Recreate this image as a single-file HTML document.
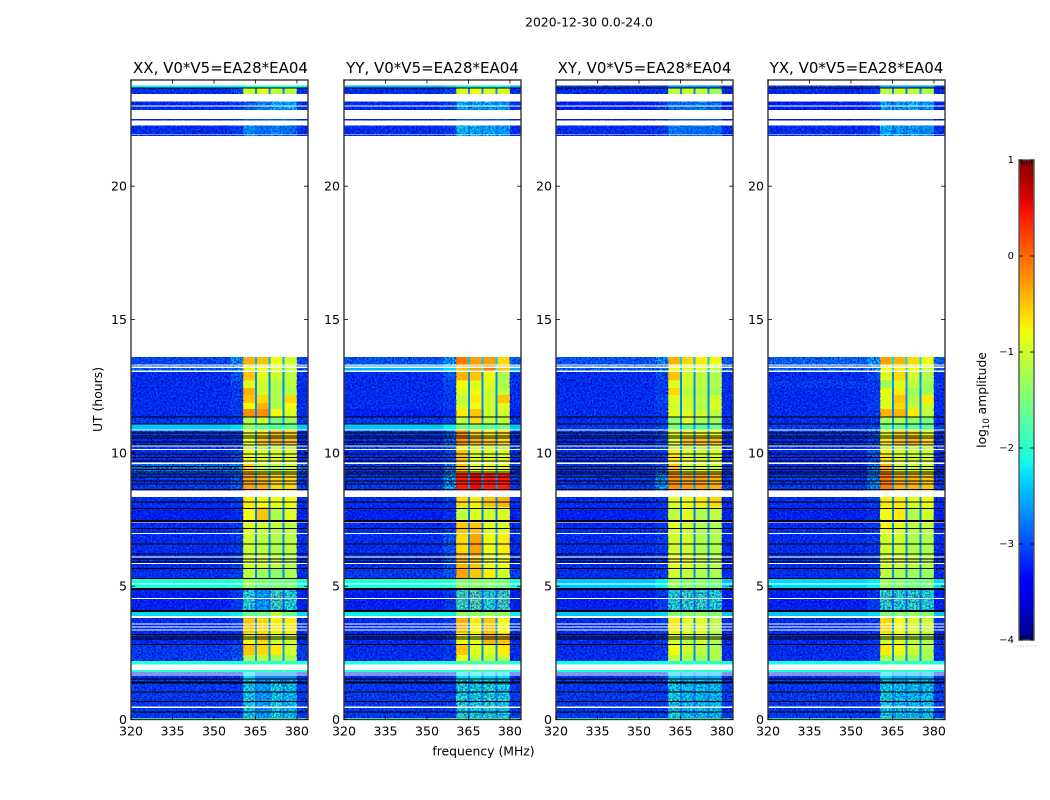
<!DOCTYPE html>
<html lang="en">
<head>
<meta charset="utf-8">
<title>2020-12-30 0.0-24.0 dynamic spectra</title>
<style>
html,body{margin:0;padding:0;background:#fff;}
svg{display:block;font-family:"DejaVu Sans","Liberation Sans",sans-serif;fill:#000;}
</style>
</head>
<body>
<svg id="chart" xmlns="http://www.w3.org/2000/svg" width="1050" height="800" viewBox="0 0 1050 800">
  <defs>
    <filter id="speckle-dark" x="0" y="0" width="1" height="1" color-interpolation-filters="sRGB">
      <feTurbulence type="fractalNoise" baseFrequency="0.55" numOctaves="2" seed="4"/>
      <feColorMatrix type="matrix" values="0 0 0 0 0  0 0 0 0 0  0 0 0 0 0.75  2.8 0 0 0 -1.05"/>
    </filter>
    <filter id="speckle-light" x="0" y="0" width="1" height="1" color-interpolation-filters="sRGB">
      <feTurbulence type="fractalNoise" baseFrequency="0.55" numOctaves="2" seed="11"/>
      <feColorMatrix type="matrix" values="0 0 0 0 0  0 0 0 0 0.5  0 0 0 0 1  0 2.4 0 0 -1.25"/>
    </filter>
    <linearGradient id="colorbar-gradient" x1="0" y1="0" x2="0" y2="1"></linearGradient>
  </defs>
  <text x="589" y="26.5" font-size="12.4" text-anchor="middle">2020-12-30 0.0-24.0</text>
  <text x="220.5" y="73" font-size="15" text-anchor="middle">XX, V0*V5=EA28*EA04</text>
  <text x="432.5" y="73" font-size="15" text-anchor="middle">YY, V0*V5=EA28*EA04</text>
  <text x="644.5" y="73" font-size="15" text-anchor="middle">XY, V0*V5=EA28*EA04</text>
  <text x="856.5" y="73" font-size="15" text-anchor="middle">YX, V0*V5=EA28*EA04</text>
  <text transform="translate(102,399.5) rotate(-90)" font-size="12.4" text-anchor="middle">UT (hours)</text>
  <text x="483.5" y="755.5" font-size="12.4" text-anchor="middle">frequency (MHz)</text>
  <text transform="translate(986,400) rotate(-90)" font-size="12.3" text-anchor="middle">log<tspan font-size="8.5" dy="3">10</tspan><tspan dy="-3"> amplitude</tspan></text>
  <g id="panels"></g>
  <g id="colorbar"></g>
</svg>
<script>
// Tick labels
const xTicks = [320, 335, 350, 365, 380];
const yTicks = [0, 5, 10, 15, 20];
const colorbarTicks = [1, 0, -1, -2, -3, -4];

// Top edge (UT hours) of each time block; the last block ends at 0 h
const rowTops = [24, 23.67, 23.18, 22.85, 22.47, 13.59, 13.32, 13.06, 12.72, 12.43, 12.16, 11.86, 11.64, 11.36, 11.06, 10.87, 10.59, 10.29, 10.14, 9.63, 9.24, 8.34, 7.96, 7.46, 6.99, 6.24, 5.68, 5.30, 4.93, 4.07, 3.80, 3.24, 2.83, 2.42, 2.19, 1.78, 1.48, 0.06];

// log10 amplitude per time block: [background, band edge, subband 1, subband 2, subband 3, subband 4]
const levelsXX = [
[-2.2,-2.2,-2.1,-2.1,-2.1,-2.1],[-3.1,-2.9,-1.0,-0.8,-1.1,-1.1],[-3.1,-3.0,-2.8,-2.6,-2.4,-2.3],[-3.2,-3.2,-3.0,-3.0,-3.0,-3.0],
[-3.1,-3.0,-2.5,-2.7,-2.6,-2.7],[-2.9,-2.4,-0.4,-0.5,-0.8,-1.0],[-2.7,-2.5,-0.7,-0.8,-0.9,-1.0],[-3.1,-2.8,-0.5,-0.9,-1.0,-1.1],
[-3.1,-2.9,-0.9,-1.0,-1.2,-1.1],[-3.1,-3.0,-0.4,-1.0,-1.2,-1.2],[-3.1,-3.0,-0.5,-0.6,-1.2,-0.6],[-3.1,-3.0,-0.8,-0.4,-1.2,-0.8],
[-3.1,-3.0,-0.2,-0.2,-0.8,-0.9],[-3.0,-3.0,-1.2,-1.0,-1.5,-1.3],[-2.4,-2.3,-1.3,-1.6,-1.7,-1.6],[-3.0,-2.9,-0.9,-0.7,-0.5,-0.6],
[-3.1,-3.0,-0.8,-0.5,-0.4,-0.5],[-3.0,-2.9,-1.1,-1.1,-1.1,-1.1],[-3.1,-2.9,-0.8,-0.9,-0.9,-0.9],[-2.6,-2.5,-0.6,-1.0,-1.1,-1.0],
[-3.0,-2.8,-0.3,-0.4,-0.6,-0.6],[-3.1,-3.0,-0.7,-0.8,-0.8,-0.8],[-3.2,-3.1,-0.8,-0.5,-1.2,-0.9],[-3.1,-3.0,-0.9,-1.0,-1.1,-1.1],
[-3.1,-3.0,-1.0,-1.1,-1.2,-1.1],[-3.1,-3.0,-1.0,-1.0,-1.1,-1.2],[-3.1,-3.0,-1.1,-1.3,-1.4,-1.2],[-2.1,-2.0,-1.3,-1.5,-1.5,-1.5],
[-3.2,-3.0,-2.0,-2.4,-1.8,-2.0],[-2.3,-2.2,-1.6,-1.6,-1.0,-1.6],[-3.1,-3.0,-0.5,-0.6,-0.7,-0.7],[-3.1,-3.0,-0.8,-0.6,-1.0,-1.0],
[-3.0,-2.9,-0.5,-0.6,-0.7,-1.0],[-3.0,-2.8,-1.2,-1.1,-1.3,-1.2],[-2.0,-2.0,-2.0,-2.0,-2.0,-2.0],[-3.1,-3.0,-2.3,-2.7,-2.7,-2.7],
[-3.0,-3.0,-2.1,-2.4,-2.1,-2.2],[-1.9,-1.8,-1.8,-2.0,-1.8,-1.9]
];
const levelsYY = [
[-2.5,-2.4,-2.2,-2.2,-2.2,-2.2],[-3.1,-2.9,-0.9,-0.8,-0.9,-0.9],[-3.1,-3.0,-2.3,-2.4,-2.3,-2.4],[-3.2,-3.2,-3.0,-3.0,-3.0,-3.0],
[-3.1,-3.0,-2.2,-2.3,-2.3,-2.4],[-2.8,-2.3,-0.1,-0.3,-0.3,-0.6],[-2.5,-2.3,-0.5,-0.3,-0.1,-0.5],[-3.1,-2.8,-0.4,-0.5,-0.8,-1.2],
[-3.1,-2.9,-0.8,-0.9,-0.9,-1.2],[-3.1,-3.0,-0.9,-0.8,-1.0,-1.1],[-3.1,-3.0,-1.1,-0.7,-1.0,-0.5],[-3.1,-3.0,-1.0,-0.8,-1.0,-0.9],
[-3.2,-3.1,-0.7,-0.5,-1.0,-1.0],[-3.0,-2.9,-1.1,-0.6,-1.1,-1.1],[-2.4,-2.2,-1.5,-1.5,-1.6,-1.5],[-3.0,-2.7,-0.2,-0.6,-0.7,-0.6],
[-3.1,-2.7,-0.2,-0.4,-0.5,-0.6],[-2.9,-2.8,-0.8,-0.9,-0.9,-1.0],[-3.1,-2.9,-0.5,-0.9,-0.9,-0.9],[-3.0,-2.5,-0.5,-0.9,-0.8,-0.9],
[-3.0,-2.3,0.4,0.5,0.4,0.4],[-3.1,-3.0,-0.6,-0.7,-0.5,-0.4],[-3.2,-3.1,-1.1,-0.9,-1.0,-0.9],[-3.1,-3.0,-0.5,-0.5,-0.9,-0.9],
[-3.1,-2.8,-0.6,-0.3,-0.8,-0.7],[-3.1,-2.8,-0.4,-0.5,-0.9,-0.8],[-3.0,-2.8,-0.3,-0.5,-0.7,-1.0],[-2.1,-2.0,-1.4,-1.4,-1.4,-1.5],
[-3.2,-3.0,-1.8,-1.7,-2.0,-1.8],[-2.2,-2.2,-1.3,-1.3,-1.3,-1.3],[-3.1,-3.0,-0.4,-0.7,-0.5,-0.8],[-3.1,-2.9,-0.8,-0.9,-0.4,-0.5],
[-3.1,-3.0,-0.5,-0.9,-0.9,-0.7],[-3.1,-3.0,-0.8,-1.1,-1.1,-1.1],[-2.0,-2.0,-1.9,-1.9,-1.9,-1.9],[-3.1,-3.0,-2.3,-2.2,-2.3,-2.3],
[-3.0,-3.0,-2.0,-2.1,-2.0,-2.1],[-1.9,-1.6,-1.9,-1.9,-1.9,-1.9]
];
const levelsXY = [
[-3.0,-3.0,-2.7,-2.7,-2.7,-2.7],[-3.1,-3.0,-1.1,-1.0,-1.1,-1.3],[-3.2,-3.0,-2.7,-2.7,-2.6,-2.7],[-3.3,-3.2,-3.0,-3.0,-3.0,-3.0],
[-3.1,-3.0,-2.6,-2.7,-2.7,-2.7],[-2.8,-2.4,-0.4,-0.6,-0.7,-0.8],[-2.7,-2.5,-0.8,-0.9,-0.9,-1.1],[-3.1,-2.9,-0.5,-1.0,-1.1,-1.2],
[-3.1,-3.0,-0.9,-1.0,-1.1,-1.2],[-3.1,-3.0,-0.6,-1.1,-1.2,-1.3],[-3.1,-2.9,-0.9,-1.0,-1.1,-1.0],[-3.1,-3.0,-1.0,-1.0,-1.2,-0.9],
[-3.1,-3.0,-0.9,-0.9,-1.0,-1.1],[-3.1,-3.0,-1.4,-0.9,-1.2,-1.3],[-3.0,-2.9,-1.5,-1.6,-1.7,-1.6],[-3.0,-2.8,-0.9,-0.8,-0.8,-0.8],
[-3.1,-2.9,-0.9,-0.5,-0.5,-0.5],[-3.0,-2.9,-1.1,-1.1,-1.1,-1.1],[-3.1,-3.0,-0.7,-0.9,-1.0,-0.9],[-3.0,-2.8,-0.5,-1.0,-0.9,-1.0],
[-3.0,-2.4,-0.2,-0.3,-0.3,-0.4],[-3.1,-3.0,-0.9,-0.8,-0.7,-0.6],[-3.2,-3.1,-1.1,-0.9,-1.2,-1.1],[-3.1,-3.0,-0.9,-1.0,-1.2,-1.2],
[-3.1,-3.0,-1.0,-1.0,-1.2,-1.2],[-3.1,-3.0,-0.9,-0.9,-1.1,-1.2],[-3.1,-3.0,-1.0,-1.1,-1.2,-1.2],[-2.4,-2.2,-1.3,-1.4,-1.4,-1.5],
[-3.2,-3.0,-2.0,-1.9,-1.9,-2.0],[-2.4,-2.3,-1.4,-1.4,-1.3,-1.4],[-3.1,-3.0,-0.7,-0.9,-0.9,-1.1],[-3.1,-3.0,-1.0,-1.1,-1.0,-1.2],
[-3.1,-3.0,-0.8,-1.0,-1.1,-1.2],[-3.1,-3.0,-1.1,-1.2,-1.3,-1.2],[-2.1,-2.1,-2.0,-2.0,-2.0,-2.0],[-3.1,-3.0,-2.4,-2.5,-2.5,-2.5],
[-3.0,-3.0,-2.1,-2.2,-2.2,-2.2],[-2.0,-1.9,-1.9,-2.0,-1.9,-1.9]
];
const levelsYX = [
[-3.0,-3.0,-2.6,-2.6,-2.6,-2.6],[-3.1,-3.0,-1.1,-1.0,-1.1,-1.2],[-3.2,-3.0,-2.4,-2.4,-2.3,-2.4],[-3.3,-3.2,-3.0,-3.0,-3.0,-3.0],
[-3.1,-3.0,-2.3,-2.4,-2.4,-2.5],[-2.7,-2.3,-0.3,-0.4,-0.6,-0.8],[-2.7,-2.4,-0.8,-0.7,-0.8,-1.0],[-3.1,-2.9,-0.9,-0.6,-1.0,-1.2],
[-3.0,-3.0,-1.3,-0.9,-1.1,-1.3],[-3.1,-3.0,-0.8,-0.7,-1.3,-1.3],[-3.1,-3.0,-0.9,-0.5,-1.2,-0.7],[-3.1,-3.0,-0.9,-0.6,-1.1,-1.0],
[-3.1,-3.0,-0.4,-0.4,-0.7,-1.1],[-3.1,-3.0,-1.3,-1.2,-1.4,-1.5],[-3.0,-2.9,-1.6,-1.6,-1.7,-1.7],[-3.0,-2.8,-0.9,-0.6,-0.6,-0.8],
[-3.1,-2.9,-0.7,-0.5,-0.4,-0.6],[-3.0,-2.9,-1.1,-1.1,-1.1,-1.1],[-3.1,-2.8,-0.7,-0.9,-1.0,-1.0],[-3.1,-2.6,-0.4,-1.0,-1.0,-1.0],
[-3.0,-2.4,-0.1,-0.4,-0.4,-0.5],[-3.1,-3.0,-0.7,-0.7,-0.9,-0.8],[-3.2,-3.1,-0.8,-0.7,-1.2,-1.0],[-3.1,-3.0,-0.8,-0.9,-1.1,-1.1],
[-3.1,-3.0,-1.0,-1.0,-1.2,-1.2],[-3.1,-3.0,-1.0,-1.0,-1.1,-1.2],[-3.1,-3.0,-1.1,-1.2,-1.3,-1.3],[-2.3,-2.2,-1.3,-1.4,-1.5,-1.5],
[-3.2,-3.0,-1.9,-2.0,-1.9,-2.0],[-2.4,-2.3,-1.5,-1.4,-1.3,-1.4],[-3.1,-3.0,-0.6,-0.8,-0.9,-1.0],[-3.1,-3.0,-1.0,-0.9,-1.1,-1.2],
[-3.1,-3.0,-0.7,-0.8,-1.0,-1.2],[-3.1,-3.0,-1.2,-1.2,-1.3,-1.3],[-2.1,-2.1,-2.0,-2.0,-2.0,-2.0],[-3.1,-3.0,-2.3,-2.5,-2.5,-2.5],
[-3.0,-3.0,-2.1,-2.2,-2.2,-2.2],[-2.0,-1.9,-1.9,-2.0,-1.9,-1.9]
];

// Frequency edges (MHz) of the columns: background, band edge, four subbands with gaps between them, background
const bandStarts = [360.5, 365.5, 370.5, 375.5];
const bandEnds = [364.8, 369.8, 374.8, 380];
const edgeStart = 356;
const freqMin = 320;
const freqMax = 384;

// Flagged (no data) intervals in UT hours
const blankIntervals = [[23.78,24],[23.18,23.45],[22.98,23.03],[22.51,22.85],[22.28,22.47],[21.94,21.96],[13.59,21.88],[13.28,13.32],[13.19,13.23],[13.04,13.08],[10.83,10.87],[10.23,10.27],[10.10,10.14],[9.59,9.63],[8.34,8.58],[7.38,7.42],[6.95,6.99],[6.07,6.11],[5.83,5.87],[5.06,5.10],[4.52,4.56],[3.80,3.88],[3.56,3.60],[3.45,3.49],[3.33,3.37],[1.86,2.06],[1.72,1.76],[1.65,1.69],[0.44,0.48]];
// Zero-amplitude scans (UT hours of the centre of each dark line)
const darkScans = [23.68,11.35,11.08,10.75,10.63,10.55,10.41,10.30,9.96,9.83,9.70,9.48,9.38,9.28,9.20,9.10,8.95,8.83,8.63,8.15,7.92,7.44,7.17,6.58,6.20,6.02,5.91,5.67,5.29,4.89,4.07,3.19,3.10,3.02,2.82,1.52,1.39,1.03,0.68,0.28];
const thickDarkScans = [7.44,4.89,4.07,1.39];
// Time ranges where the bright subbands are as noisy as the background
const noisyBandRanges = [[22.85,23.18],[21.88,22.28],[4.07,4.89],[0.06,1.48]];

const panelLevels = [levelsXX, levelsYY, levelsXY, levelsYX];
const panelKeys = ['xx', 'yy', 'xy', 'yx'];
const panelLefts = [131, 344, 556, 768];
const panelWidth = 177;
const plotTop = 79.5;
const plotBottom = 719.5;
const hourMax = 24;
const levelMin = -4;
const levelMax = 1;
const smoothRowLevel = -2.55;

const SVG_NS = 'http://www.w3.org/2000/svg';
function make(tag, attrs, parent) {
  const node = document.createElementNS(SVG_NS, tag);
  for (const k in attrs) node.setAttribute(k, attrs[k]);
  parent.appendChild(node);
  return node;
}
function yOf(h) { return plotBottom - (h / hourMax) * (plotBottom - plotTop); }
function xOf(left, f) { return left + ((f - freqMin) / (freqMax - freqMin)) * panelWidth; }
function clamp01(v) { return Math.max(0, Math.min(1, v)); }
function ramp(t, knots) {
  for (let i = 1; i < knots.length; i++) {
    if (t <= knots[i][0]) {
      const a = knots[i - 1], b = knots[i];
      return a[1] + (b[1] - a[1]) * (t - a[0]) / (b[0] - a[0]);
    }
  }
  return knots[knots.length - 1][1];
}
const jetRed = [[0,0],[0.35,0],[0.66,1],[0.89,1],[1,0.5]];
const jetGreen = [[0,0],[0.125,0],[0.375,1],[0.64,1],[0.91,0],[1,0]];
const jetBlue = [[0,0.5],[0.11,1],[0.34,1],[0.65,0],[1,0]];
function jet(level) {
  const t = clamp01((level - levelMin) / (levelMax - levelMin));
  return 'rgb(' + Math.round(ramp(t, jetRed) * 255) + ',' + Math.round(ramp(t, jetGreen) * 255) + ',' + Math.round(ramp(t, jetBlue) * 255) + ')';
}

const panelsRoot = document.getElementById('panels');

panelKeys.forEach(function (key, p) {
  const left = panelLefts[p];
  const right = left + panelWidth;
  const levels = panelLevels[p];
  const g = make('g', {}, panelsRoot);
  
  

  const spans = [[freqMin, edgeStart, 0], [edgeStart, bandStarts[0], 1], [bandEnds[3], freqMax, 0]];
  bandStarts.forEach(function (s, i) { spans.push([s, bandEnds[i], i + 2]); });

  levels.forEach(function (row, r) {
    const top = yOf(rowTops[r]);
    const bottom = yOf(r + 1 < rowTops.length ? rowTops[r + 1] : 0);
    spans.forEach(function (sp) {
      const cell = make('rect', {
        x: xOf(left, sp[0]), y: top,
        width: xOf(left, sp[1]) - xOf(left, sp[0]), height: bottom - top,
        fill: jet(row[sp[2]]), 'shape-rendering': 'crispEdges'
      }, g);
      
      
    });
    for (let i = 0; i < 3; i++) {
      const gap = make('rect', {
        x: xOf(left, bandEnds[i]), y: top,
        width: xOf(left, bandStarts[i + 1]) - xOf(left, bandEnds[i]), height: bottom - top,
        fill: jet(row[0] + 0.4), 'shape-rendering': 'crispEdges'
      }, g);
      
      
    }
    // Receiver-noise texture over the out-of-band background of quiet scans only
    if (row[0] <= smoothRowLevel) {
      [[freqMin, bandStarts[0]], [bandEnds[3], freqMax]].forEach(function (range) {
        ['speckle-dark', 'speckle-light'].forEach(function (f) {
          const tex = make('rect', {
            x: xOf(left, range[0]), y: top,
            width: xOf(left, range[1]) - xOf(left, range[0]), height: bottom - top,
            filter: 'url(#' + f + ')'
          }, g);
          
          
        });
      });
    }
  });

  noisyBandRanges.forEach(function (range) {
    ['speckle-dark', 'speckle-light'].forEach(function (f) {
      const tex = make('rect', {
        x: xOf(left, bandStarts[0]), y: yOf(range[1]),
        width: xOf(left, bandEnds[3]) - xOf(left, bandStarts[0]), height: yOf(range[0]) - yOf(range[1]),
        filter: 'url(#' + f + ')', opacity: 0.7
      }, g);
      
      
    });
  });

  blankIntervals.forEach(function (iv) {
    const top = yOf(iv[1]);
    const blank = make('rect', {
      x: left, y: top, width: panelWidth, height: yOf(iv[0]) - top,
      fill: '#fff', 'shape-rendering': 'crispEdges'
    }, g);
    
    
  });
  darkScans.forEach(function (h) {
    const w = thickDarkScans.indexOf(h) >= 0 ? 0.08 : 0.036;
    const top = yOf(h + w / 2);
    const dark = make('rect', {
      x: left, y: top, width: panelWidth, height: yOf(h - w / 2) - top,
      fill: '#000', 'shape-rendering': 'crispEdges'
    }, g);
    
    
  });

  const frame = make('rect', {
    x: left, y: plotTop + 0.5, width: panelWidth, height: plotBottom - plotTop - 0.5,
    fill: 'none', stroke: '#333', 'stroke-width': 1.4
  }, g);
  
  

  xTicks.forEach(function (f) {
    const x = xOf(left, f);
    [[plotBottom, plotBottom - 4], [plotTop, plotTop + 4]].forEach(function (pair) {
      const tick = make('line', { x1: x, x2: x, y1: pair[0], y2: pair[1], stroke: '#000', 'stroke-width': 0.8 }, g);
      
      
    });
    const label = make('text', { x: x, y: plotBottom + 16, 'font-size': 12.6, 'text-anchor': 'middle' }, g);
    label.textContent = String(f);
    
    
  });

  yTicks.forEach(function (h) {
    const y = yOf(h);
    [[left, left + 4], [right, right - 4]].forEach(function (pair) {
      const tick = make('line', { x1: pair[0], x2: pair[1], y1: y, y2: y, stroke: '#000', 'stroke-width': 0.8 }, g);
      
      
    });
    const label = make('text', { x: left - 4, y: y + 4.5, 'font-size': 12.6, 'text-anchor': 'end' }, g);
    label.textContent = String(h);
    
    
  });
});

// Colorbar
const cbLeft = 1019;
const cbRight = 1034;
const cbTop = 160;
const cbBottom = 640;
function cbY(level) { return cbBottom - ((level - levelMin) / (levelMax - levelMin)) * (cbBottom - cbTop); }

const gradient = document.getElementById('colorbar-gradient');
for (let i = 0; i <= 60; i++) {
  make('stop', { offset: (i / 60), 'stop-color': jet(levelMax - (i / 60) * (levelMax - levelMin)) }, gradient);
}
const cbRoot = document.getElementById('colorbar');
const cbFill = make('rect', { x: cbLeft, y: cbTop, width: cbRight - cbLeft, height: cbBottom - cbTop, fill: 'url(#colorbar-gradient)' }, cbRoot);


const cbFrame = make('rect', { x: cbLeft, y: cbTop, width: cbRight - cbLeft, height: cbBottom - cbTop, fill: 'none', stroke: '#555', 'stroke-width': 1.4 }, cbRoot);



colorbarTicks.forEach(function (lv) {
  const y = cbY(lv);
  [[cbLeft, cbLeft + 4], [cbRight, cbRight - 4]].forEach(function (pair) {
    const tick = make('line', { x1: pair[0], x2: pair[1], y1: y, y2: y, stroke: '#000', 'stroke-width': 0.8 }, cbRoot);
    
    
  });
  const label = make('text', { x: cbLeft - 5, y: y + 3, 'font-size': 10, 'text-anchor': 'end' }, cbRoot);
  label.textContent = lv < 0 ? '\u2212' + Math.abs(lv) : String(lv);
  
  
});
for (let i = 0; i < 5; i++) {
  const x = cbLeft + 2.5 + i * 2.5;
  [[cbTop, cbTop + 4], [cbBottom, cbBottom - 4]].forEach(function (pair) {
    const mark = make('line', { x1: x, x2: x, y1: pair[0], y2: pair[1], stroke: '#000', 'stroke-width': 0.6 }, cbRoot);
    
    
  });
}
for (let i = 0; i < 7; i++) {
  const dot = make('rect', { x: 1017.5 + i * 2.8, y: 645.5, width: 1, height: 1, fill: '#aaa' }, cbRoot);
  
  
}
</script>
</body>
</html>
